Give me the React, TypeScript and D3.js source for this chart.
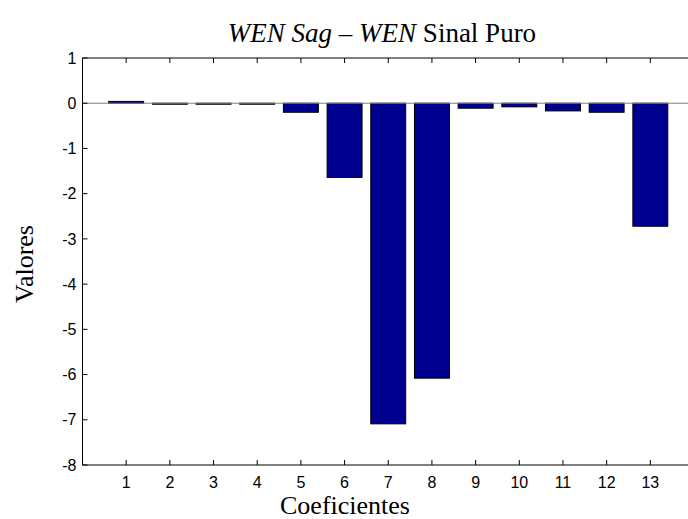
import React from "react";
import * as d3 from "d3";

const categories = [1, 2, 3, 4, 5, 6, 7, 8, 9, 10, 11, 12, 13];
const values = [0.04, -0.02, -0.02, -0.02, -0.2, -1.64, -7.09, -6.08, -0.11, -0.08, -0.17, -0.2, -2.72];
const yTicks = [1, 0, -1, -2, -3, -4, -5, -6, -7, -8];
const xTicks = [1, 2, 3, 4, 5, 6, 7, 8, 9, 10, 11, 12, 13];

const W = 688;
const H = 519;
const left = 82.5;
const right = 694;
const top = 58;
const bottom = 465;

export default function App() {
  const x = d3.scaleLinear().domain([0, 14]).range([left, right]);
  const y = d3.scaleLinear().domain([-8, 1]).range([bottom, top]);
  const bw = (x(1) - x(0)) * 0.8;
  const tl = 5;
  const sans = "Arial, 'Liberation Sans', sans-serif";
  const serif = "'Times New Roman', 'Liberation Serif', serif";
  return (
    <svg width={W} height={H} style={{ position: "absolute", left: 0, top: 0, background: "#fff" }}>
      <rect x={0} y={0} width={W} height={H} fill="#fff" />
      {/* bars */}
      {categories.map((c, i) => {
        const v = values[i];
        const y0 = y(0);
        const y1 = y(v);
        return (
          <rect
            key={c}
            x={x(c) - bw / 2}
            y={Math.min(y0, y1)}
            width={bw}
            height={Math.max(Math.abs(y1 - y0), 1)}
            fill="#00008f"
            stroke="#000"
            strokeWidth={1}
          />
        );
      })}
      {/* baseline */}
      <line x1={left} x2={right} y1={y(0)} y2={y(0)} stroke="#808080" strokeWidth={1} />
      {/* axes box */}
      <line x1={left} x2={right} y1={top} y2={top} stroke="#000" />
      <line x1={left} x2={right} y1={bottom} y2={bottom} stroke="#000" />
      <line x1={left} x2={left} y1={top} y2={bottom} stroke="#000" />
      <line x1={right} x2={right} y1={top} y2={bottom} stroke="#000" />
      {/* x ticks */}
      {xTicks.map((t) => (
        <g key={"xt" + t}>
          <line x1={x(t)} x2={x(t)} y1={bottom} y2={bottom - tl} stroke="#000" />
          <line x1={x(t)} x2={x(t)} y1={top} y2={top + tl} stroke="#000" />
          <text x={x(t)} y={488} textAnchor="middle" fontFamily={sans} fontSize={16} fill="#000">
            {t}
          </text>
        </g>
      ))}
      {/* y ticks */}
      {yTicks.map((t) => (
        <g key={"yt" + t}>
          <line x1={left} x2={left + tl} y1={y(t)} y2={y(t)} stroke="#000" />
          <line x1={right} x2={right - tl} y1={y(t)} y2={y(t)} stroke="#000" />
          <text x={left - 6} y={y(t) + 5.7} textAnchor="end" fontFamily={sans} fontSize={16} fill="#000">
            {t}
          </text>
        </g>
      ))}
      {/* title */}
      <text x={382} y={42} textAnchor="middle" fontFamily={serif} fontSize={27} fill="#000">
        <tspan fontStyle="italic">WEN Sag</tspan>
        <tspan> – </tspan>
        <tspan fontStyle="italic">WEN</tspan>
        <tspan> Sinal Puro</tspan>
      </text>
      {/* x label */}
      <text x={345} y={514} textAnchor="middle" fontFamily={serif} fontSize={26} fill="#000">
        Coeficientes
      </text>
      {/* y label */}
      <text
        transform={`translate(33,264) rotate(-90)`}
        textAnchor="middle"
        fontFamily={serif}
        fontSize={26}
        fill="#000"
      >
        Valores
      </text>
    </svg>
  );
}
